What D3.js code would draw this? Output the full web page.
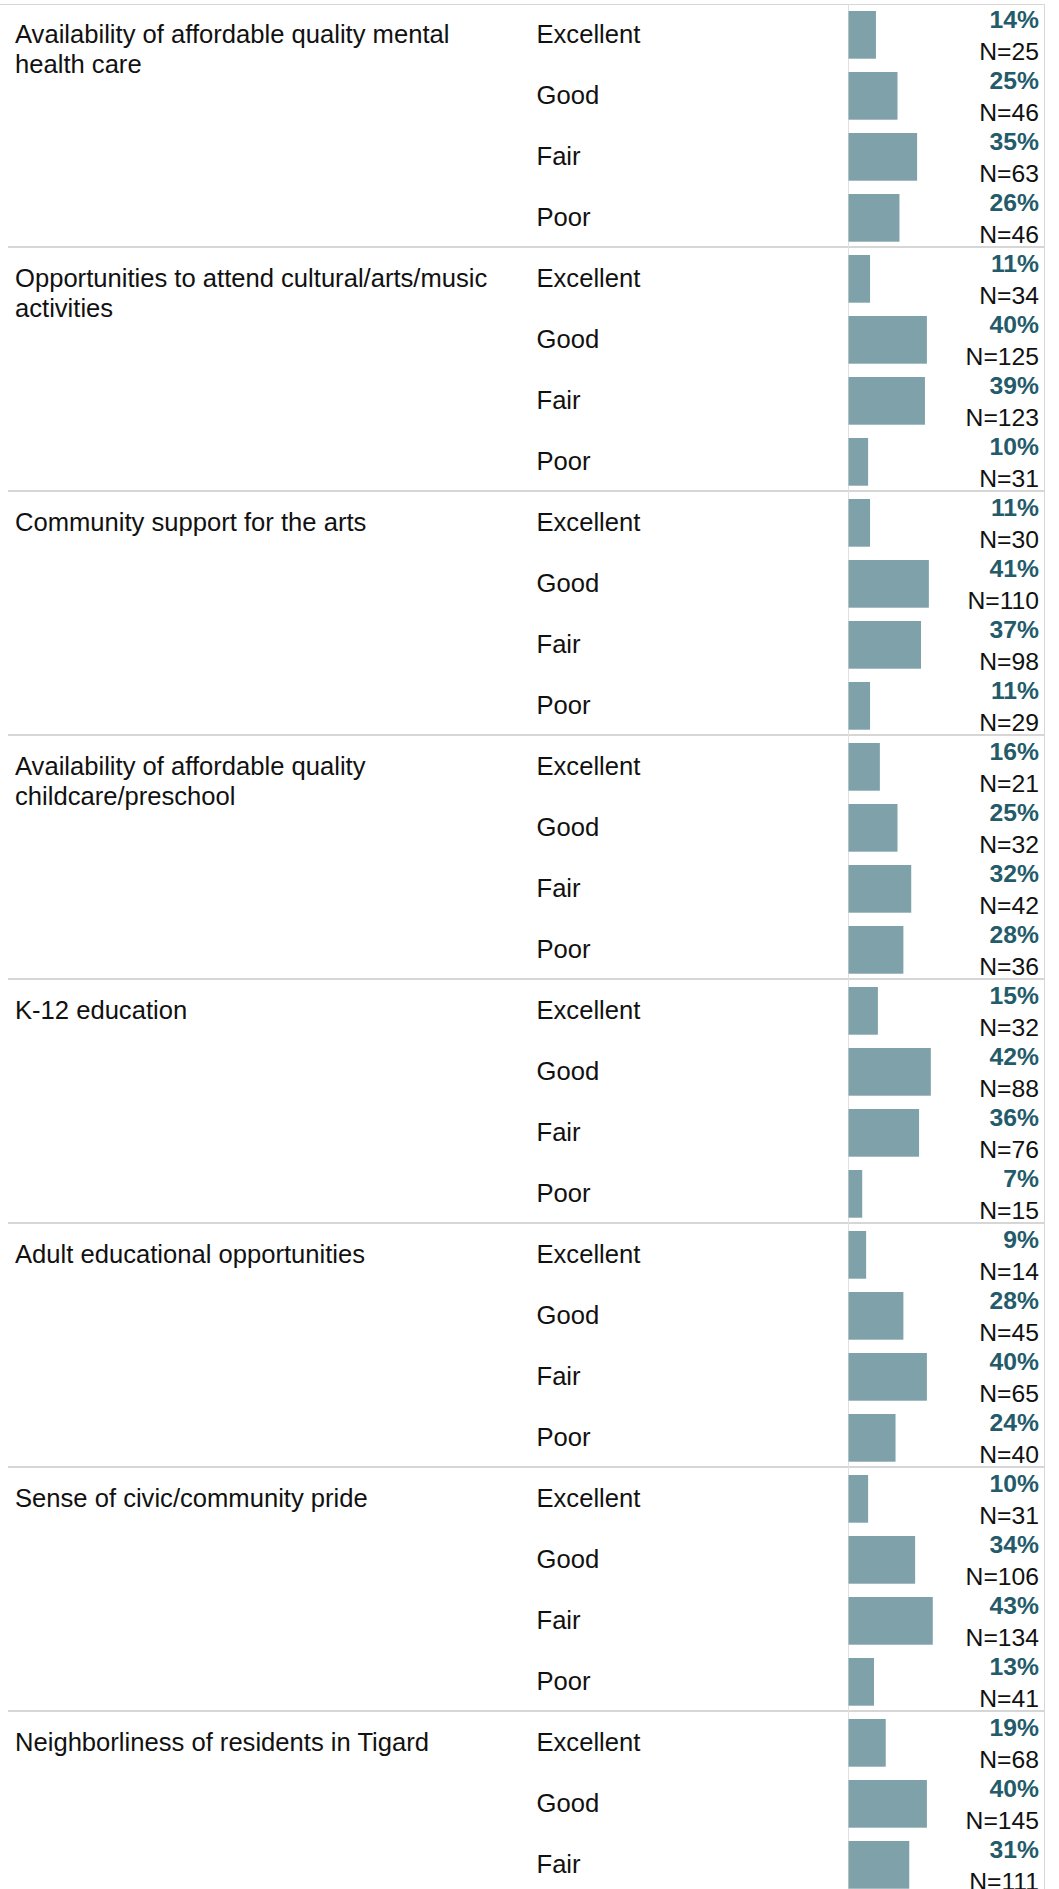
<!DOCTYPE html>
<html>
<head>
<meta charset="utf-8">
<script src="https://cdn.jsdelivr.net/npm/d3@7"></script>
<style>
  html, body { margin: 0; padding: 0; background: #fff; overflow: hidden; }
  svg { display: block; }
</style>
</head>
<body>
<svg id="chart" width="1059" height="1889"></svg>
<script>
// ---- Data ----
const questions = [
  "Availability of affordable quality mental health care",
  "Opportunities to attend cultural/arts/music activities",
  "Community support for the arts",
  "Availability of affordable quality childcare/preschool",
  "K-12 education",
  "Adult educational opportunities",
  "Sense of civic/community pride",
  "Neighborliness of residents in Tigard"
];
const ratings = ["Excellent", "Good", "Fair", "Poor"];
const percents = [
  [14, 25, 35, 26],
  [11, 40, 39, 10],
  [11, 41, 37, 11],
  [16, 25, 32, 28],
  [15, 42, 36, 7],
  [9, 28, 40, 24],
  [10, 34, 43, 13],
  [19, 40, 31]
];
const counts = [
  [25, 46, 63, 46],
  [34, 125, 123, 31],
  [30, 110, 98, 29],
  [21, 32, 42, 36],
  [32, 88, 76, 15],
  [14, 45, 65, 40],
  [31, 106, 134, 41],
  [68, 145, 111]
];

// ---- Layout ----
const W = 1059, H = 1889;
const FONT = "'Liberation Sans', Arial, Helvetica, sans-serif";
const barColor = "#7fa1a9";
const pctColor = "#245b6b";
const gridColor = "#d6d6d6";
const axisX = 848.5, rightX = 1044.5;
const rowsPerGroup = 4;

const svg = d3.select("#chart");

// flatten rows
const rows = [];
percents.forEach((g, gi) => {
  g.forEach((p, ri) => {
    rows.push({ g: gi, r: ri, rating: ratings[ri], pct: p, n: counts[gi][ri], idx: gi * rowsPerGroup + ri });
  });
});

const y = d3.scaleLinear().domain([0, 1]).range([11, 72]);   // bar top per row index
const barH = 47.7;
const x = d3.scaleLinear().domain([0, 100]).range([axisX, axisX + 196]);

// Top border line
svg.append("line")
  .attr("x1", 0).attr("x2", rightX).attr("y1", 4.5).attr("y2", 4.5)
  .attr("stroke", gridColor).attr("stroke-width", 1);

// Group separators
questions.forEach((q, gi) => {
  if (gi === 0) return;
  const yy = y(gi * rowsPerGroup) - 8;
  svg.append("line")
    .attr("x1", 8).attr("x2", rightX).attr("y1", yy).attr("y2", yy)
    .attr("stroke", gridColor).attr("stroke-width", 2);
});

// Vertical lines
svg.append("line")
  .attr("x1", axisX).attr("x2", axisX).attr("y1", 4.5).attr("y2", H)
  .attr("stroke", "#e0e0e0").attr("stroke-width", 1);
svg.append("line")
  .attr("x1", rightX).attr("x2", rightX).attr("y1", 4.5).attr("y2", H)
  .attr("stroke", gridColor).attr("stroke-width", 1);

// Bars
svg.append("g").selectAll("rect").data(rows).join("rect")
  .attr("x", x(0))
  .attr("y", d => y(d.idx))
  .attr("width", d => x(d.pct) - x(0))
  .attr("height", barH)
  .attr("fill", barColor);

// Rating labels
svg.append("g").selectAll("text").data(rows).join("text")
  .attr("x", 536.5)
  .attr("y", d => y(d.idx) + 32.3)
  .attr("font-family", FONT).attr("font-size", 25.6).attr("fill", "#111")
  .text(d => d.rating);

// Percent labels
svg.append("g").selectAll("text").data(rows).join("text")
  .attr("x", 1039)
  .attr("y", d => y(d.idx) + 17.3)
  .attr("text-anchor", "end")
  .attr("font-family", FONT).attr("font-size", 24.7).attr("font-weight", "bold")
  .attr("fill", pctColor)
  .text(d => d.pct + "%");

// N labels
svg.append("g").selectAll("text").data(rows).join("text")
  .attr("x", 1039)
  .attr("y", d => y(d.idx) + 49)
  .attr("text-anchor", "end")
  .attr("font-family", FONT).attr("font-size", 24.7).attr("fill", "#111")
  .text(d => "N=" + d.n);

// Question labels with wrapping
const maxW = 495;
const qg = svg.append("g");
questions.forEach((q, gi) => {
  const t = qg.append("text")
    .attr("x", 15)
    .attr("y", y(gi * rowsPerGroup) + 32.3)
    .attr("font-family", FONT).attr("font-size", 25.6).attr("fill", "#111");
  const words = q.split(" ");
  let line = [];
  let lineNo = 0;
  let tspan = t.append("tspan").attr("x", 15).attr("dy", 0);
  words.forEach(w => {
    line.push(w);
    tspan.text(line.join(" "));
    if (tspan.node().getComputedTextLength() > maxW && line.length > 1) {
      line.pop();
      tspan.text(line.join(" "));
      line = [w];
      lineNo++;
      tspan = t.append("tspan").attr("x", 15).attr("dy", 30).text(w);
    }
  });
});
</script>
</body>
</html>
